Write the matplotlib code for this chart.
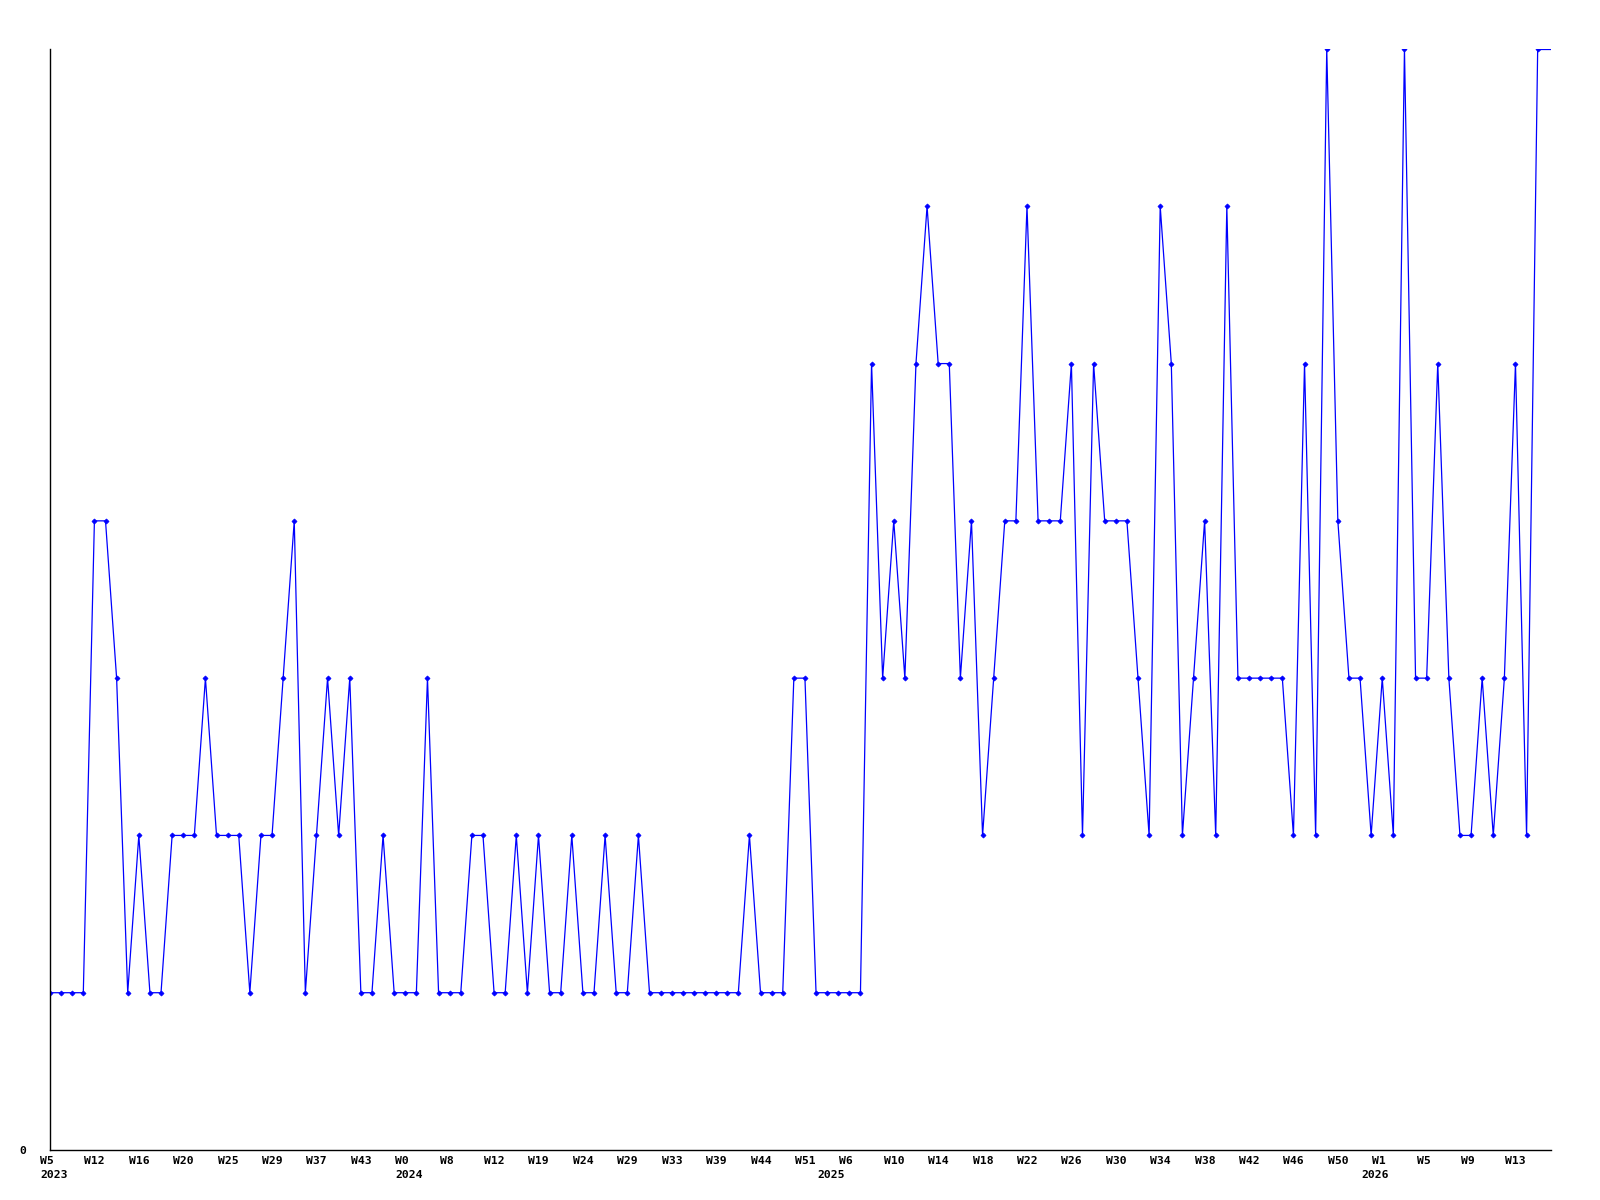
"""
Weekly counts line chart (single series, small diamond markers).
"""

import matplotlib

matplotlib.use("Agg")
import matplotlib.pyplot as plt
from matplotlib.transforms import ScaledTranslation
import numpy as np


VALUES = [
    1, 1, 1, 1, 4, 4, 3, 1, 2, 1,
    1, 2, 2, 2, 3, 2, 2, 2, 1, 2,
    2, 3, 4, 1, 2, 3, 2, 3, 1, 1,
    2, 1, 1, 1, 3, 1, 1, 1, 2, 2,
    1, 1, 2, 1, 2, 1, 1, 2, 1, 1,
    2, 1, 1, 2, 1, 1, 1, 1, 1, 1,
    1, 1, 1, 2, 1, 1, 1, 3, 3, 1,
    1, 1, 1, 1, 5, 3, 4, 3, 5, 6,
    5, 5, 3, 4, 2, 3, 4, 4, 6, 4,
    4, 4, 5, 2, 5, 4, 4, 4, 3, 2,
    6, 5, 2, 3, 4, 2, 6, 3, 3, 3,
    3, 3, 2, 5, 2, 7, 4, 3, 3, 2,
    3, 2, 7, 3, 3, 5, 3, 2, 2, 3,
    2, 3, 5, 2, 7,
]

WEEK_LABELS = [
    "W5", "W12", "W16", "W20", "W25", "W29", "W37", "W43",
    "W0", "W8", "W12", "W19", "W24", "W29", "W33", "W39", "W44", "W51",
    "W6", "W10", "W14", "W18", "W22", "W26", "W30", "W34", "W38", "W42",
    "W46", "W50",
    "W1", "W5", "W9", "W13",
]
LABEL_STEP = 4

YEAR_LABELS = ["2023", "2024", "2025", "2026"]
YEAR_INDEX = [0, 32, 70, 119]

LINE_COLOR = "#0000FF"
FONT = {"family": "DejaVu Sans Mono", "weight": "bold", "size": 8.2}


def main() -> None:
    fig = plt.figure(figsize=(16, 12), dpi=100)
    ax = fig.add_axes([50 / 1600, 50 / 1200, 1501 / 1600, 1101 / 1200])

    x = np.arange(len(VALUES))
    ax.plot(
        x,
        VALUES,
        color=LINE_COLOR,
        linewidth=0.9,
        marker="D",
        markersize=2.6,
        markeredgewidth=0.5,
    )

    ax.set_xlim(0, 135.2)
    ax.set_ylim(0, 7)

    # the line runs on flat to the right edge after the last point
    ax.plot([x[-1], ax.get_xlim()[1]], [VALUES[-1], VALUES[-1]],
            color=LINE_COLOR, linewidth=0.9)

    for side in ("top", "right"):
        ax.spines[side].set_visible(False)
    for side in ("left", "bottom"):
        ax.spines[side].set_color("black")
        ax.spines[side].set_linewidth(1.0)

    ticks = np.arange(len(WEEK_LABELS)) * LABEL_STEP
    ax.set_xticks(ticks)
    ax.set_xticklabels(WEEK_LABELS, ha="left", fontdict=FONT)
    ax.tick_params(axis="x", length=0, pad=4.2)
    shift = ScaledTranslation(-10 / 100, 0, fig.dpi_scale_trans)
    for label in ax.get_xticklabels():
        label.set_transform(label.get_transform() + shift)

    ax.set_yticks([0])
    ax.set_yticklabels(["0"], fontdict=FONT)
    ax.tick_params(axis="y", length=0, pad=17)

    for year, idx in zip(YEAR_LABELS, YEAR_INDEX):
        ax.annotate(
            year,
            xy=(idx, 0),
            xycoords=("data", "axes fraction"),
            xytext=(-10, -20),
            textcoords="offset pixels",
            ha="left",
            va="top",
            **FONT,
        )

    fig.savefig("out.png", dpi=100)
    plt.close(fig)


if __name__ == "__main__":
    main()
